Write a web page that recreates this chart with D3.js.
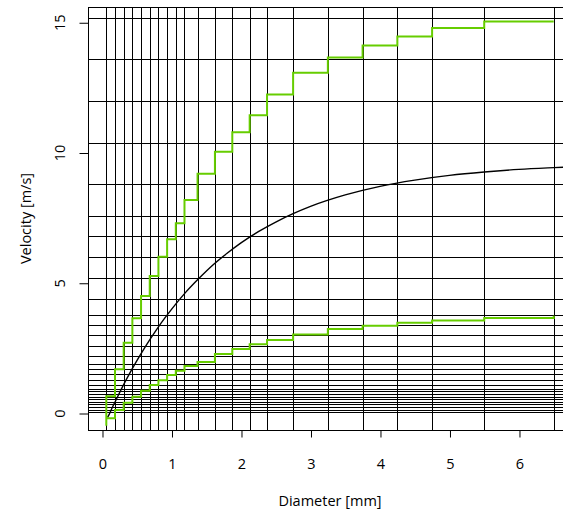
<!DOCTYPE html>
<html>
<head>
<meta charset="utf-8">
<script src="https://cdn.jsdelivr.net/npm/d3@7"></script>
<style>
  html, body { margin: 0; padding: 0; background: #fff; }
  svg { display: block; }
  text { font-family: "Open Sans", "Noto Sans", sans-serif; fill: #000; }
</style>
</head>
<body>
<svg id="chart" width="563" height="511"></svg>
<script>
// ---- data ----
// diameter class centres (mm) -> vertical grid lines
const diameterClasses = [0.062, 0.187, 0.312, 0.437, 0.562, 0.687, 0.812, 0.937, 1.062, 1.187,
  1.375, 1.625, 1.875, 2.125, 2.375, 2.75, 3.25, 3.75, 4.25, 4.75, 5.5, 6.5, 7.5, 8.5, 9.5,
  11, 13, 15, 17, 19, 21.5, 24.5];
// velocity class centres (m/s) -> horizontal grid lines
const velocityClasses = [0.05, 0.15, 0.25, 0.35, 0.45, 0.55, 0.65, 0.75, 0.85, 0.95,
  1.1, 1.3, 1.5, 1.7, 1.9, 2.2, 2.6, 3.0, 3.4, 3.8, 4.4, 5.2, 6.0, 6.8, 7.6, 8.8,
  10.4, 12.0, 13.6, 15.2, 17.6, 20.8];

// bound step lines, evaluated at the diameter class centres up to 6.5 mm
const boundDiameters = [0.062, 0.187, 0.312, 0.437, 0.562, 0.687, 0.812, 0.937, 1.062, 1.187,
  1.375, 1.625, 1.875, 2.125, 2.375, 2.75, 3.25, 3.75, 4.25, 4.75, 5.5, 6.5];
const upperBound = [-0.47, 0.66, 1.70, 2.72, 3.66, 4.51, 5.28, 6.02, 6.69, 7.30,
  8.20, 9.20, 10.05, 10.80, 11.45, 12.25, 13.08, 13.67, 14.13, 14.47, 14.80, 15.05];
const lowerBound = [-0.18, 0.13, 0.41, 0.64, 0.87, 1.09, 1.28, 1.48, 1.64, 1.82,
  1.98, 2.28, 2.48, 2.66, 2.82, 3.03, 3.24, 3.37, 3.48, 3.57, 3.67, 3.75];

// fall velocity curve
const curveDiameter = [0.08, 0.1, 0.15, 0.2, 0.3, 0.4, 0.5, 0.6, 0.7, 0.8, 0.9, 1.0, 1.2, 1.4,
  1.6, 1.8, 2.0, 2.25, 2.5, 2.75, 3.0, 3.5, 4.0, 4.5, 5.0, 5.5, 6.0, 6.5, 7.0];
const curveVelocity = [-0.15, -0.05, 0.24, 0.51, 1.05, 1.55, 2.02, 2.46, 2.88, 3.28, 3.65, 4.00,
  4.64, 5.20, 5.71, 6.15, 6.55, 6.98, 7.35, 7.67, 7.95, 8.39, 8.72, 8.96, 9.14, 9.27, 9.37, 9.44, 9.50];

const xTicks = [0, 1, 2, 3, 4, 5, 6];
const yTicks = [0, 5, 10, 15];
const xTitle = "Diameter [mm]";
const yTitle = "Velocity [m/s]";

// ---- layout ----
const svg = d3.select("#chart");
const box = { left: 88, right: 572, top: 7, bottom: 430 };

const x = d3.scaleLinear().domain([-0.2014, 6.763]).range([box.left, box.right]);
const y = d3.scaleLinear().domain([-0.633, 15.605]).range([box.bottom, box.top]);

svg.append("defs").append("clipPath").attr("id", "plotClip")
  .append("rect")
  .attr("x", box.left).attr("y", box.top)
  .attr("width", box.right - box.left).attr("height", box.bottom - box.top);

const plot = svg.append("g").attr("clip-path", "url(#plotClip)");

// grid
const snap = v => Math.round(v) + 0.5;
plot.append("g").selectAll("line").data(diameterClasses).join("line")
  .attr("x1", d => snap(x(d))).attr("x2", d => snap(x(d)))
  .attr("y1", box.top).attr("y2", box.bottom)
  .attr("stroke", "#000").attr("stroke-width", 1);
plot.append("g").selectAll("line").data(velocityClasses).join("line")
  .attr("y1", d => snap(y(d))).attr("y2", d => snap(y(d)))
  .attr("x1", box.left).attr("x2", box.right)
  .attr("stroke", "#000").attr("stroke-width", 1);

// fall velocity curve
const curvePts = curveDiameter.map((d, i) => [d, curveVelocity[i]]);
plot.append("path")
  .datum(curvePts)
  .attr("fill", "none").attr("stroke", "#000").attr("stroke-width", 1.4)
  .attr("d", d3.line().x(d => x(d[0])).y(d => y(d[1])).curve(d3.curveMonotoneX));

// bounds
const green = "#66CD00";
const upperPts = boundDiameters.map((d, i) => [d, upperBound[i]]);
const lowerPts = boundDiameters.map((d, i) => [d, lowerBound[i]]);
plot.append("path").datum(upperPts)
  .attr("fill", "none").attr("stroke", green).attr("stroke-width", 2)
  .attr("d", d3.line().x(d => x(d[0])).y(d => y(d[1])).curve(d3.curveStepBefore));
plot.append("path").datum(lowerPts)
  .attr("fill", "none").attr("stroke", green).attr("stroke-width", 2)
  .attr("d", d3.line().x(d => x(d[0])).y(d => y(d[1])).curve(d3.curveStepAfter));

// box
svg.append("rect")
  .attr("x", box.left + 0.5).attr("y", box.top + 0.5)
  .attr("width", box.right - box.left).attr("height", box.bottom - box.top)
  .attr("fill", "none").attr("stroke", "#000").attr("stroke-width", 1);

// x axis
const xAxis = svg.append("g").attr("transform", `translate(0.5,${box.bottom + 0.5})`)
  .call(d3.axisBottom(x).tickValues(xTicks).tickSize(7).tickPadding(21).tickFormat(d3.format("d")));
xAxis.select(".domain").remove();
xAxis.append("line").attr("x1", x(xTicks[0])).attr("x2", x(xTicks[xTicks.length - 1]))
  .attr("stroke", "#000");
xAxis.selectAll(".tick line").attr("stroke", "#000");
xAxis.selectAll("text").attr("font-size", "14.5px").attr("font-family", "Open Sans, sans-serif").attr("fill", "#000");

// y axis
const yAxis = svg.append("g").attr("transform", `translate(${box.left + 0.5},0.5)`);
yAxis.append("line").attr("y1", y(yTicks[0])).attr("y2", y(yTicks[yTicks.length - 1]))
  .attr("stroke", "#000");
yAxis.selectAll("line.tk").data(yTicks).join("line").attr("class", "tk")
  .attr("x1", 0).attr("x2", -9).attr("y1", d => y(d)).attr("y2", d => y(d))
  .attr("stroke", "#000");
svg.append("g").selectAll("text").data(yTicks).join("text")
  .attr("transform", d => `translate(65,${y(d)}) rotate(-90)`)
  .attr("text-anchor", "middle")
  .attr("font-size", "14.5px")
  .text(d => d);

// titles
svg.append("text")
  .attr("x", (box.left + box.right) / 2).attr("y", 506)
  .attr("text-anchor", "middle").attr("font-size", "14.5px")
  .text(xTitle);
svg.append("text")
  .attr("transform", `translate(31,${(box.top + box.bottom) / 2}) rotate(-90)`)
  .attr("text-anchor", "middle").attr("font-size", "14.5px")
  .text(yTitle);
</script>
</body>
</html>
